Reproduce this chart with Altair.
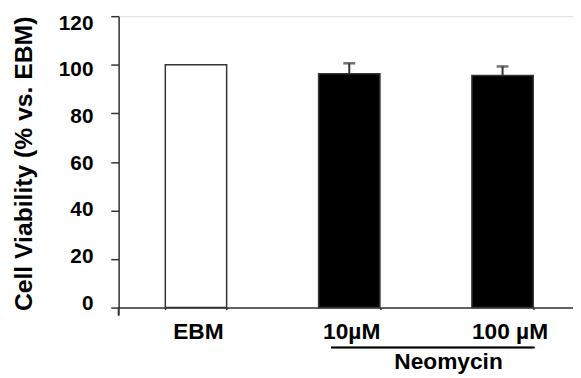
import altair as alt
import pandas as pd

categories = ["EBM", "10µM", "100 µM"]
values = [100.0, 96.3, 95.6]
errors = [0.0, 4.3, 3.7]
fills = ["white", "black", "black"]
y_ticks = [0, 20, 40, 60, 80, 100, 120]
group_label = "Neomycin"

df = pd.DataFrame({"cat": categories, "val": values, "err": errors, "fill": fills})
df["hi"] = df["val"] + df["err"]
df_err = df[df["err"] > 0]

FONT = "Liberation Sans"
AX = "#333333"

xscale = alt.Scale(domain=categories, paddingInner=0.6, paddingOuter=0.282, align=0.54)
yscale = alt.Scale(domain=[0, 120], nice=False)

x_enc = alt.X("cat:N", scale=xscale, sort=categories,
              axis=alt.Axis(title=None, labelAngle=0, ticks=True, tickBand="extent",
                            tickSize=2, tickColor=AX, tickWidth=1.5, labelPadding=11,
                            labelOffset=alt.ExprRef("datum.value == '100 µM' ? 7 : 2"),
                            labelFont=FONT, labelFontSize=23, labelFontWeight="bold",
                            labelColor="black", domainColor=AX, domainWidth=1.5))
y_enc = alt.Y("val:Q", scale=yscale,
              axis=alt.Axis(title="Cell Viability (% vs. EBM)", values=y_ticks, grid=False,
                            tickSize=8, tickColor=AX, tickWidth=1.5,
                            domainColor=AX, domainWidth=1.5,
                            labelFont=FONT, labelFontSize=21, labelFontWeight="bold",
                            labelColor="black", labelPadding=18,
                            labelOffset=alt.ExprRef("(datum.value - 60) * 0.095 + 1.5"),
                            titleFont=FONT, titleFontSize=25, titleFontWeight="bold",
                            titleColor="black", titleAngle=-90, titleX=-96, titleY=149,
                            titleAlign="center", titleBaseline="middle"))

bars = alt.Chart(df).mark_bar(stroke=AX, strokeWidth=1.5).encode(
    x=x_enc, y=y_enc,
    fill=alt.Fill("fill:N", scale=None),
)

err_rule = alt.Chart(df_err).mark_rule(color=AX, strokeWidth=2).encode(
    x=alt.X("cat:N", scale=xscale, sort=categories),
    y=alt.Y("val:Q", scale=yscale),
    y2="hi:Q",
)
err_cap = alt.Chart(df_err).mark_tick(color=AX, thickness=2.5, size=12).encode(
    x=alt.X("cat:N", scale=xscale, sort=categories),
    y=alt.Y("hi:Q", scale=yscale),
)

axis_ext = alt.Chart(df).mark_rule(color=AX, strokeWidth=1.5).encode(
    x=alt.value(0), y=alt.value(295), y2=alt.value(303)
)

group_line = alt.Chart(df).mark_rule(color="black", strokeWidth=1.5).encode(
    x=alt.value(215), x2=alt.value(421), y=alt.value(335.5)
)
group_text = alt.Chart(pd.DataFrame({"t": [group_label]})).mark_text(
    font=FONT, fontSize=23, fontWeight="bold", color="black", baseline="middle", align="center"
).encode(x=alt.value(334), y=alt.value(350), text="t:N")

chart = alt.layer(bars, err_rule, err_cap, axis_ext, group_line, group_text).properties(
    width=460, height=295,
    autosize=alt.AutoSizeParams(type="none"),
    padding={"left": 112, "top": 6, "right": 0, "bottom": 68},
).configure_view(stroke=None).configure(background="white")

chart.save("out.html", embed_options={"renderer": "svg", "actions": False})
